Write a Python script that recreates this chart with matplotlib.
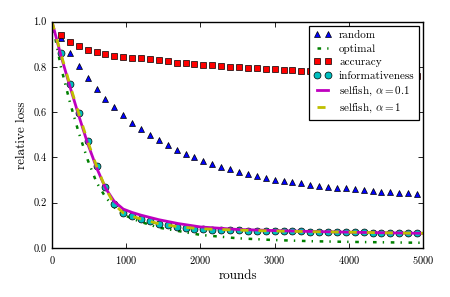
import numpy as np
import matplotlib
matplotlib.use("Agg")
import matplotlib.pyplot as plt

plt.rcParams['font.family'] = 'serif'
plt.rcParams['font.serif'] = ['cmr10', 'DejaVu Serif']
plt.rcParams['mathtext.fontset'] = 'cm'
plt.rcParams['axes.formatter.use_mathtext'] = True
plt.rcParams['lines.scale_dashes'] = False

# marker series, one point every 120 rounds
mk_rounds = np.arange(120, 5000, 120)
random_loss = [0.928, 0.863, 0.806, 0.751, 0.703, 0.660, 0.622, 0.588, 0.554, 0.527,
               0.501, 0.476, 0.454, 0.434, 0.417, 0.401, 0.386, 0.371, 0.358, 0.348,
               0.336, 0.327, 0.318, 0.309, 0.300, 0.295, 0.290, 0.286, 0.280, 0.274,
               0.271, 0.266, 0.264, 0.261, 0.258, 0.253, 0.249, 0.247, 0.244, 0.242,
               0.239]
accuracy_loss = [0.941, 0.912, 0.893, 0.876, 0.865, 0.856, 0.850, 0.845, 0.841, 0.838,
                 0.834, 0.829, 0.825, 0.819, 0.816, 0.813, 0.810, 0.807, 0.804, 0.801,
                 0.798, 0.795, 0.794, 0.791, 0.790, 0.787, 0.786, 0.783, 0.781, 0.780,
                 0.778, 0.777, 0.775, 0.773, 0.772, 0.770, 0.768, 0.766, 0.764, 0.762,
                 0.760]
inform_loss = [0.860, 0.723, 0.595, 0.473, 0.364, 0.268, 0.195, 0.156, 0.141, 0.128,
               0.118, 0.106, 0.100, 0.093, 0.087, 0.084, 0.083, 0.081, 0.080, 0.079,
               0.078, 0.077, 0.077, 0.076, 0.075, 0.074, 0.074, 0.073, 0.072, 0.072,
               0.071, 0.070, 0.070, 0.069, 0.069, 0.068, 0.067, 0.067, 0.066, 0.066,
               0.065]

# line series
line_rounds = [0, 120, 240, 360, 480, 600, 720, 840, 960, 1080, 1200, 1440, 1700,
               2000, 2500, 3000, 3500, 4000, 4500, 5000]
optimal_loss = [1.0, 0.80, 0.645, 0.51, 0.39, 0.29, 0.225, 0.18, 0.148, 0.13, 0.115,
                0.09, 0.075, 0.058, 0.043, 0.035, 0.030, 0.027, 0.025, 0.023]
selfish01_loss = [1.0, 0.85, 0.715, 0.585, 0.462, 0.355, 0.265, 0.205, 0.172, 0.157,
                  0.145, 0.125, 0.108, 0.093, 0.082, 0.077, 0.073, 0.070, 0.067, 0.065]
selfish1_loss = [1.0, 0.858, 0.722, 0.595, 0.472, 0.362, 0.265, 0.192, 0.155, 0.140,
                 0.128, 0.107, 0.094, 0.085, 0.079, 0.075, 0.072, 0.070, 0.067, 0.065]

fig = plt.figure(figsize=(4.5, 2.97), dpi=100)
ax = fig.add_axes([0.1156, 0.165, 0.8244, 0.762])

ax.plot(mk_rounds, random_loss, ls='none', marker='^', ms=5, color='b',
        mec='k', mew=0.5, label='random')
ax.plot(line_rounds, optimal_loss, color='g', lw=1.8,
        ls=(0, (2.6, 4.4, 1.0, 4.8)), label='optimal')
ax.plot(mk_rounds, accuracy_loss, ls='none', marker='s', ms=4.8, color='r',
        mec='k', mew=0.5, label='accuracy')
ax.plot(mk_rounds, inform_loss, ls='none', marker='o', ms=5, color='c',
        mec='k', mew=0.5, label='informativeness')
ax.plot(line_rounds, selfish01_loss, color='m', lw=2.0,
        label=r'selfish, $\alpha = 0.1$')
ax.plot(line_rounds, selfish1_loss, color='y', lw=2.0,
        ls=(0, (5.8, 7.2)), label=r'selfish, $\alpha = 1$')

ax.set_xlim(0, 5000)
ax.set_ylim(0, 1.0)
ax.set_xticks([0, 1000, 2000, 3000, 4000, 5000])
ax.set_yticks([0.0, 0.2, 0.4, 0.6, 0.8, 1.0])
ax.set_yticklabels(['0.0', '0.2', '0.4', '0.6', '0.8', '1.0'])
ax.tick_params(direction='in', top=True, right=True, length=3.5, width=0.6,
               labelsize=7.5, pad=4)
for s in ax.spines.values():
    s.set_linewidth(1.0)

ax.set_xlabel('rounds', fontsize=9.5, labelpad=3)
ax.set_ylabel('relative loss', fontsize=9.5, labelpad=4)

leg = ax.legend(loc='upper right', fontsize=8, numpoints=2, fancybox=False,
                framealpha=1, edgecolor='k', handlelength=1.6,
                handletextpad=0.7, labelspacing=0.35, borderpad=0.4,
                borderaxespad=0.35)
leg.get_frame().set_linewidth(0.9)

fig.savefig('out.png', dpi=100)
